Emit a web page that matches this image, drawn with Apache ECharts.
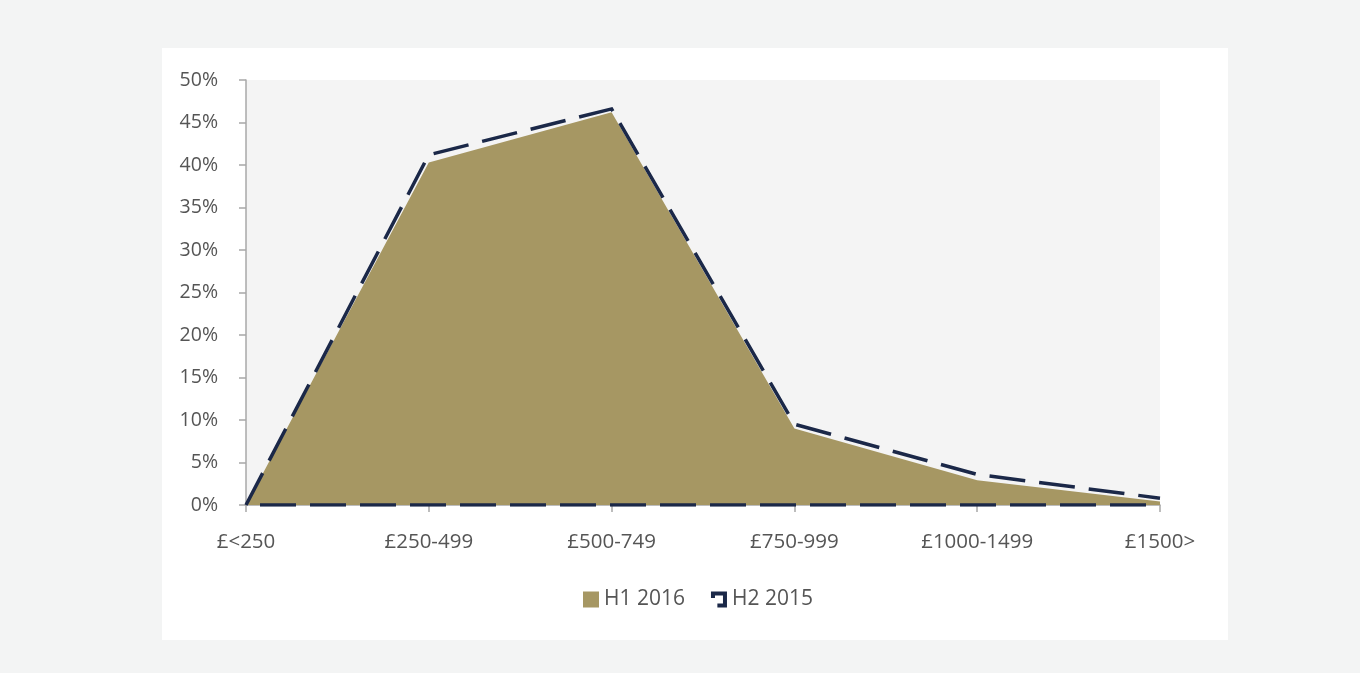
<!DOCTYPE html>
<html>
<head>
<meta charset="utf-8">
<script src="https://cdn.jsdelivr.net/npm/echarts@6/dist/echarts.min.js"></script>
<style>
html,body{margin:0;padding:0;background:#f3f4f4;}
#c{width:1360px;height:673px;}
</style>
</head>
<body>
<div id="c"></div>
<script>
var categories = ['£<250', '£250-499', '£500-749', '£750-999', '£1000-1499', '£1500>'];
var h1_2016 = [0, 40.3, 46.2, 9.0, 2.9, 0.4];
var h2_2015 = [0, 41.2, 46.6, 9.5, 3.6, 0.8];
var h2_2015_base = [0, 0, 0, 0, 0, 0];
var yTicks = [0, 5, 10, 15, 20, 25, 30, 35, 40, 45, 50];

var chart = echarts.init(document.getElementById('c'));
var font = 'Open Sans';
var navy = '#1b2848';
var iconH2 = 'path://M0,0 L10,0 L10,10 L4,10 L4,7.5 L7.5,7.5 L7.5,2.5 L2.5,2.5 L2.5,4 L0,4 Z';
chart.setOption({
  backgroundColor: '#f3f4f4',
  animation: false,
  graphic: [{
    type: 'rect', left: 162, top: 48, z: -10,
    shape: {width: 1066, height: 592},
    style: {fill: '#ffffff'}
  }],
  grid: {left: 246, right: 200, top: 80, bottom: 168, show: true, backgroundColor: '#f4f4f4', borderWidth: 0},
  legend: {
    top: 589, left: 583, padding: 0, itemGap: 26, itemWidth: 16, itemHeight: 16,
    textStyle: {fontFamily: font, fontSize: 21, color: '#555'},
    data: [
      {name: 'H1 2016', icon: 'rect', itemStyle: {color: '#a69763'}},
      {name: 'H2 2015', icon: iconH2, itemStyle: {color: navy, borderWidth: 0}}
    ]
  },
  xAxis: {
    type: 'category', data: categories, boundaryGap: false,
    axisLine: {lineStyle: {color: '#a8a8a8', width: 1.5}},
    axisTick: {show: true, length: 7, lineStyle: {color: '#a8a8a8', width: 1.5}},
    axisLabel: {fontFamily: font, fontSize: 20.5, color: '#555', margin: 27}
  },
  yAxis: {
    type: 'value', min: yTicks[0], max: yTicks[yTicks.length - 1], interval: 5,
    axisLine: {show: true, lineStyle: {color: '#a8a8a8', width: 1.5}},
    axisTick: {show: true, length: 7, lineStyle: {color: '#a8a8a8', width: 1.5}},
    splitLine: {show: false},
    axisLabel: {fontFamily: font, fontSize: 19.5, color: '#555', margin: 28, formatter: '{value}%'}
  },
  series: [
    {
      name: 'H1 2016', type: 'line', data: h1_2016, symbol: 'none', z: 2,
      lineStyle: {width: 0, color: '#a69763'},
      itemStyle: {color: '#a69763'},
      areaStyle: {color: '#a69763', opacity: 1}
    },
    {
      name: 'H2 2015', type: 'line', data: h2_2015, symbol: 'none', z: 3,
      lineStyle: {width: 3.5, color: navy, type: [36, 14], cap: 'butt', join: 'miter'},
      itemStyle: {color: navy}
    },
    {
      name: 'H2 2015', type: 'line', data: h2_2015_base, symbol: 'none', z: 3,
      lineStyle: {width: 3.5, color: navy, type: [36, 14], dashOffset: -14, cap: 'butt'},
      itemStyle: {color: navy}
    }
  ]
});
</script>
</body>
</html>
